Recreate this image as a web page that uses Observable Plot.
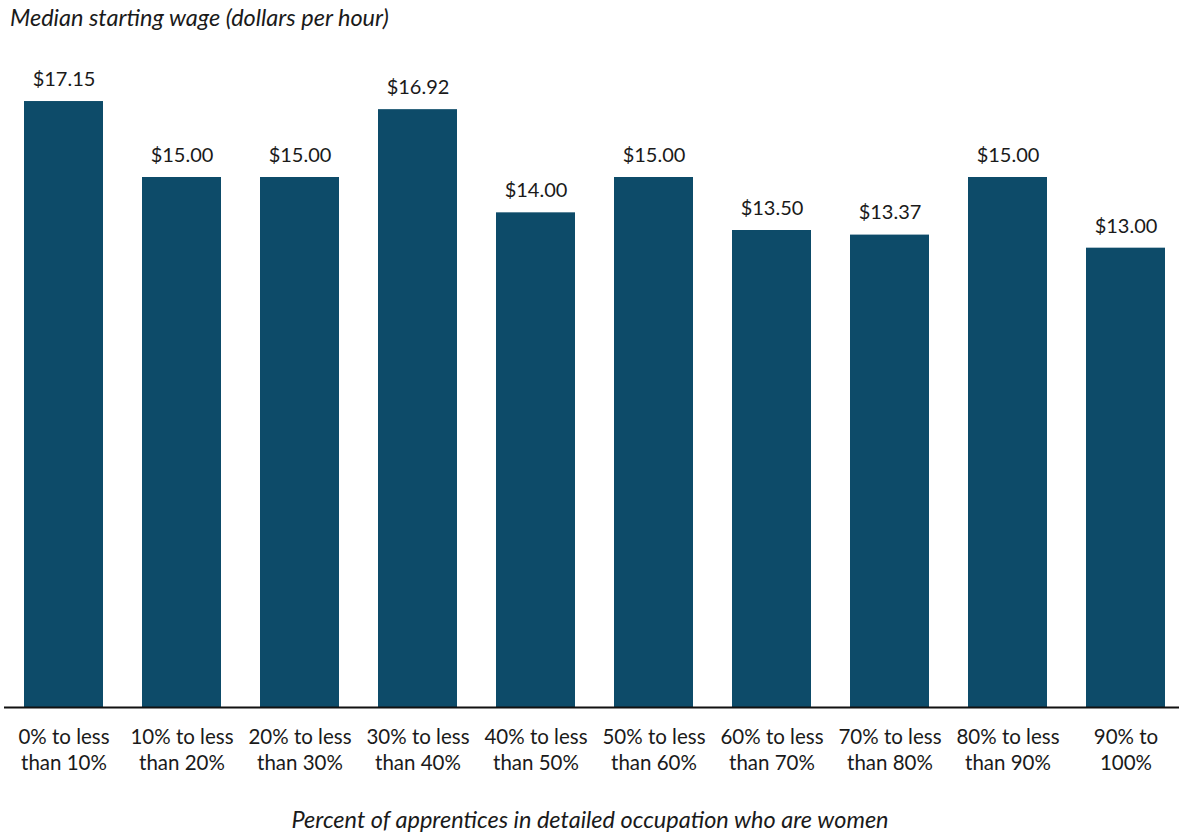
<!DOCTYPE html>
<html>
<head>
<meta charset="utf-8">
<script src="https://cdn.jsdelivr.net/npm/d3@7"></script>
<script src="https://cdn.jsdelivr.net/npm/@observablehq/plot@0.6"></script>
<style>
  body { margin: 0; background: #fff; font-family: Lato, sans-serif; }
  #title { height: 40px; box-sizing: border-box; padding: 3px 0 0 10px; font-style: italic; font-size: 23.5px; color: #1a1a1a; line-height: 28px; }
  #chart svg { display: block; }
</style>
</head>
<body>
<div id="title">Median starting wage (dollars per hour)</div>
<div id="chart"></div>
<script>
const categories = [
  "0% to less\nthan 10%", "10% to less\nthan 20%", "20% to less\nthan 30%", "30% to less\nthan 40%",
  "40% to less\nthan 50%", "50% to less\nthan 60%", "60% to less\nthan 70%", "70% to less\nthan 80%",
  "80% to less\nthan 90%", "90% to\n100%"
];
const wages = [17.15, 15.00, 15.00, 16.92, 14.00, 15.00, 13.50, 13.37, 15.00, 13.00];
const xTitle = "Percent of apprentices in detailed occupation who are women";

const data = categories.map((c, i) => ({category: c, wage: wages[i]}));

const chart = Plot.plot({
  width: 1179,
  height: 794,
  marginLeft: 0,
  marginRight: 0,
  marginTop: 31,
  marginBottom: 127,
  style: {fontFamily: "Lato, sans-serif", color: "#1a1a1a", background: "#fff"},
  x: {domain: categories, paddingInner: 0.33, paddingOuter: 0.157, align: 0.62, axis: null},
  y: {domain: [0, 18], axis: null},
  marks: [
    Plot.barY(data, {x: "category", y: "wage", fill: "#0d4b69"}),
    Plot.ruleY([0], {stroke: "#111", strokeWidth: 2, insetLeft: 4}),
    Plot.text(data, {x: "category", y: "wage", text: d => "$" + d.wage.toFixed(2), dy: -22, fontSize: 20, fill: "#1a1a1a"}),
    Plot.text(data, {x: "category", y: 0, text: "category", lineAnchor: "top", dy: 18, lineHeight: 1.27, fontSize: 20.5, fill: "#1a1a1a"}),
    Plot.text([xTitle], {frameAnchor: "bottom", dy: 120, fontSize: 23.5, fontStyle: "italic", fill: "#1a1a1a"})
  ]
});
document.getElementById("chart").appendChild(chart);
</script>
</body>
</html>
